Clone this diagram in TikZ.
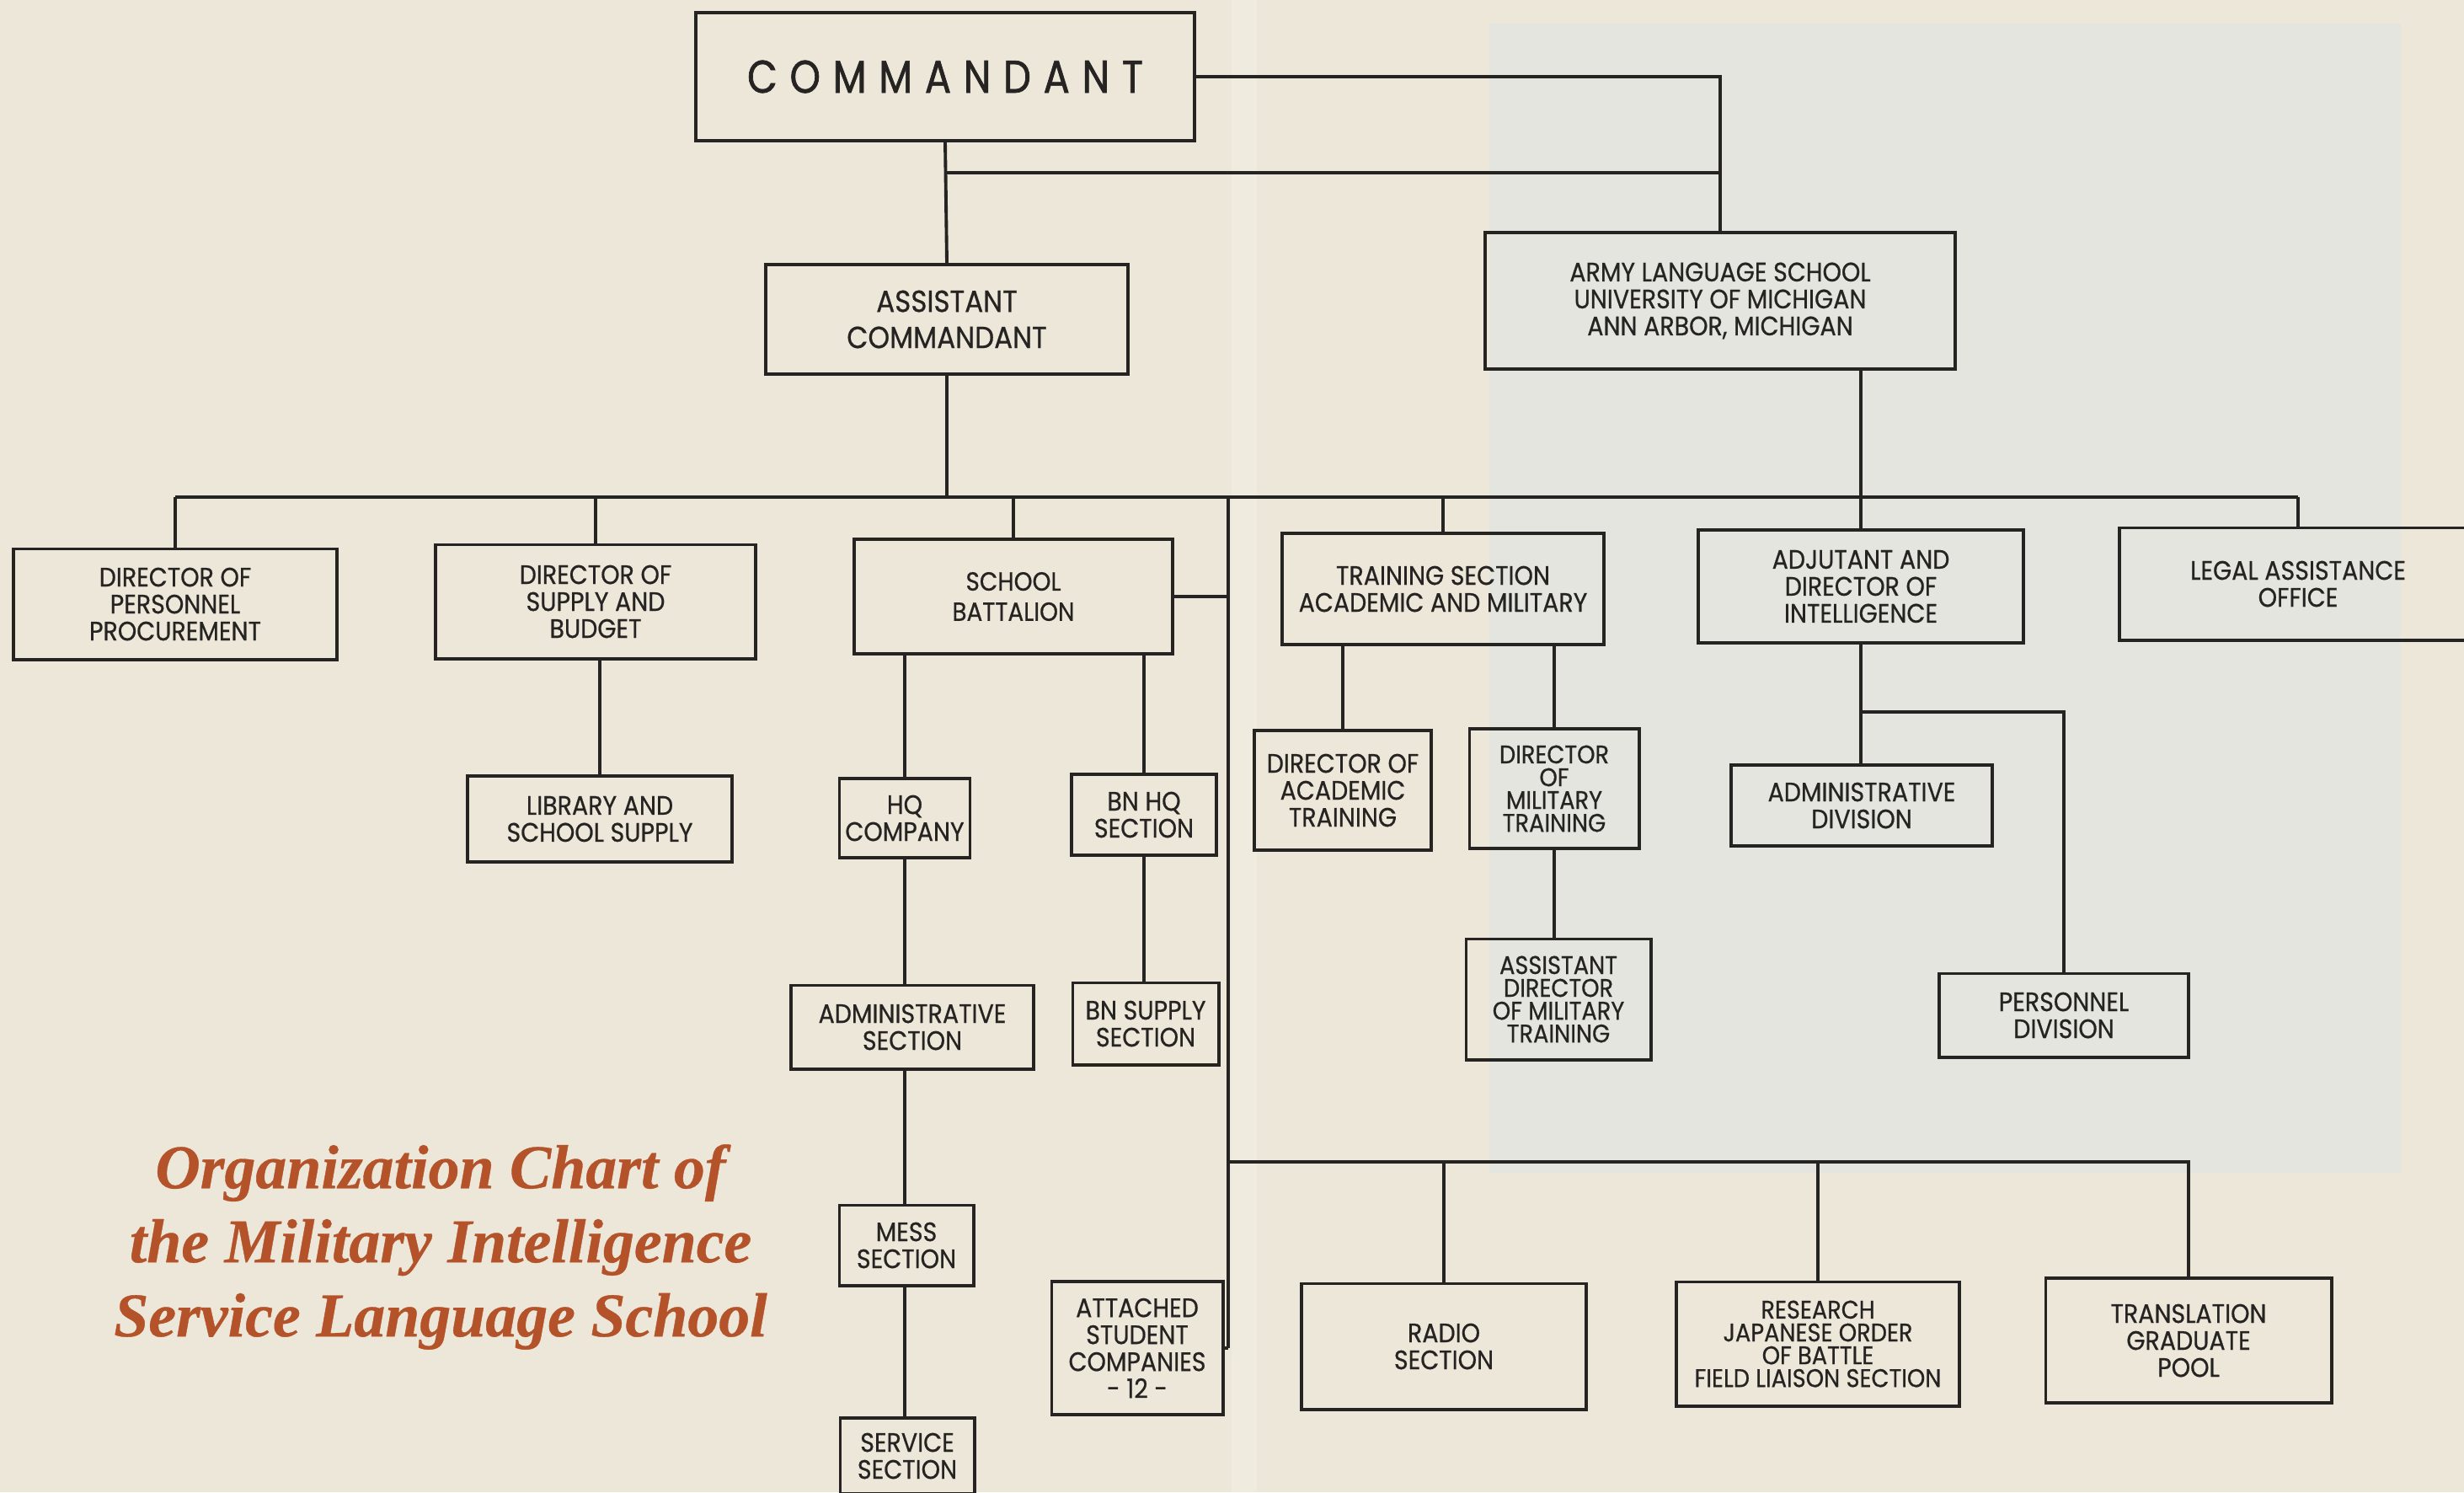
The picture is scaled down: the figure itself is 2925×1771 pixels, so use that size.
\documentclass[tikz,border=0pt]{standalone}
\usepackage{fontspec}
\setmainfont{Poppins}[FakeStretch=0.9, FakeBold=0.6]
\newfontfamily\headfont{Poppins}[FakeStretch=0.85, FakeBold=1.2, LetterSpace=27]
\newfontfamily\titlefont{Liberation Serif}[FakeBold=0.5]
\definecolor{paper}{RGB}{237,231,217}
\definecolor{panel}{RGB}{227,229,222}
\definecolor{ink}{RGB}{38,36,34}
\definecolor{rust}{RGB}{180,82,42}
\newcommand{\labelfont}{\fontsize{9}{9.1}\selectfont}
\newcommand{\tightfont}{\fontsize{8.6}{7.7}\selectfont}

\begin{document}
\begin{tikzpicture}[x=0.01cm, y=-0.01cm,
    box/.style={draw=ink, line width=1.1pt, align=center, inner sep=0pt, text=ink, font=\labelfont},
    tight/.style={font=\tightfont},
    link/.style={draw=ink, line width=1.1pt}]

\useasboundingbox (0,0) rectangle (2925,1771);
\fill[paper] (0,0) rectangle (2925,1771);
\fill[panel] (1768,28) rectangle (2850,1392);
% fold between the two pages
\fill[white, opacity=0.18] (1462,0) rectangle (1492,1771);

% top
\node[box, minimum width=5.92cm, minimum height=1.52cm, font=\headfont\fontsize{15.5}{17}\selectfont] (cmd) at (1122,91) {COMMANDANT};
\node[box, minimum width=4.30cm, minimum height=1.30cm, font=\fontsize{10.3}{12.2}\selectfont] (asst) at (1124,379) {ASSISTANT\\COMMANDANT};
\node[box, minimum width=5.58cm, minimum height=1.62cm] (army) at (2042,357) {ARMY LANGUAGE SCHOOL\\UNIVERSITY OF MICHIGAN\\ANN ARBOR, MICHIGAN};

% second row
\node[box, minimum width=3.83cm, minimum height=1.31cm] (dirpers) at (208,717) {DIRECTOR OF\\PERSONNEL\\PROCUREMENT};
\node[box, minimum width=3.80cm, minimum height=1.35cm] (dirsup) at (707,714) {DIRECTOR OF\\SUPPLY AND\\BUDGET};
\node[box, minimum width=3.78cm, minimum height=1.36cm, font=\fontsize{8.8}{10.2}\selectfont] (schbn) at (1203,708) {SCHOOL\\BATTALION};
\node[box, minimum width=3.82cm, minimum height=1.32cm] (training) at (1713,699) {TRAINING SECTION\\ACADEMIC AND MILITARY};
\node[box, minimum width=3.86cm, minimum height=1.34cm] (adj) at (2209,696) {ADJUTANT AND\\DIRECTOR OF\\INTELLIGENCE};
\node[box, minimum width=4.24cm, minimum height=1.33cm] (legal) at (2728,693) {LEGAL ASSISTANCE\\OFFICE};

% under the school battalion
\node[box, minimum width=3.14cm, minimum height=1.02cm] (library) at (712,972) {LIBRARY AND\\SCHOOL SUPPLY};
\node[box, minimum width=1.55cm, minimum height=0.94cm] (hq) at (1074,971) {HQ\\COMPANY};
\node[box, minimum width=1.72cm, minimum height=0.96cm] (bnhq) at (1358,967) {BN HQ\\SECTION};
\node[box, minimum width=1.73cm, minimum height=0.97cm] (bnsup) at (1360,1215) {BN SUPPLY\\SECTION};
\node[box, minimum width=2.87cm, minimum height=0.99cm] (admsec) at (1083,1219) {ADMINISTRATIVE\\SECTION};
\node[box, minimum width=1.59cm, minimum height=0.95cm] (mess) at (1076,1478) {MESS\\SECTION};
\node[box, minimum width=1.59cm, minimum height=0.90cm] (service) at (1077,1728) {SERVICE\\SECTION};
\node[box, minimum width=2.03cm, minimum height=1.58cm] (attached) at (1350,1600) {ATTACHED\\STUDENT\\COMPANIES\\- 12 -};

% under training and adjutant
\node[box, minimum width=2.10cm, minimum height=1.42cm] (diracad) at (1594,938) {DIRECTOR OF\\ACADEMIC\\TRAINING};
\node[box, tight, minimum width=2.01cm, minimum height=1.42cm] (dirmil) at (1845,936) {DIRECTOR\\OF\\MILITARY\\TRAINING};
\node[box, tight, minimum width=2.19cm, minimum height=1.43cm] (asstdir) at (1850,1186) {ASSISTANT\\DIRECTOR\\OF MILITARY\\TRAINING};
\node[box, minimum width=3.10cm, minimum height=0.96cm] (admdiv) at (2210,956) {ADMINISTRATIVE\\DIVISION};
\node[box, minimum width=2.96cm, minimum height=0.99cm] (persdiv) at (2450,1205) {PERSONNEL\\DIVISION};

% bottom row
\node[box, minimum width=3.37cm, minimum height=1.49cm] (radio) at (1714,1598) {RADIO\\SECTION};
\node[box, tight, minimum width=3.36cm, minimum height=1.47cm] (research) at (2158,1595) {RESEARCH\\JAPANESE ORDER\\OF BATTLE\\FIELD LIAISON SECTION};
\node[box, minimum width=3.39cm, minimum height=1.48cm] (transl) at (2598,1591) {TRANSLATION\\GRADUATE\\POOL};

% title
\node[text=rust, align=center, font=\titlefont\bfseries\itshape\fontsize{21}{25}\selectfont] (title) at (523,1480) {Organization Chart of\\the Military Intelligence\\Service Language School};

% bus points
\coordinate (busW) at (208,590);
\coordinate (busE) at (2728,590);
\coordinate (gutter) at (1458,590);
\coordinate (gutterBot) at (1458,1600);
\coordinate (lowbus) at (1458,1379);
\coordinate (cmdlink) at (1122,205);
\coordinate (adjbranch) at (2211,845);

% links
\draw[link] (cmd.east) -| (army.north);
\draw[link] (cmd.south) -- (asst.north);
\draw[link] (cmdlink) -- (cmdlink -| army.north);
\draw[link] (asst.south) -- (asst.south |- busW);
\draw[link] (busW) -- (busE);
\draw[link] (busW) -- (dirpers.north);
\draw[link] (dirsup.north |- busW) -- (dirsup.north);
\draw[link] (schbn.north |- busW) -- (schbn.north);
\draw[link] (training.north |- busW) -- (training.north);
\draw[link] (army.south -| adj.north) -- (adj.north);
\draw[link] (busE) -- (legal.north);

\draw[link] (library.north |- dirsup.south) -- (library.north);
\draw[link] (hq.north |- schbn.south) -- (hq.north);
\draw[link] (bnhq.north |- schbn.south) -- (bnhq.north);
\draw[link] (bnhq.south) -- (bnhq.south |- bnsup.north);
\draw[link] (hq.south) -- (hq.south |- admsec.north);
\draw[link] (hq.south |- admsec.south) -- (hq.south |- mess.north);
\draw[link] (hq.south |- mess.south) -- (hq.south |- service.north);
\draw[link] (schbn.east) -- (schbn.east -| gutter);
\draw[link] (gutter) -- (gutterBot);
\draw[link] (attached.east) -- (gutterBot);

\draw[link] (diracad.north |- training.south) -- (diracad.north);
\draw[link] (dirmil.north |- training.south) -- (dirmil.north);
\draw[link] (dirmil.south) -- (dirmil.south |- asstdir.north);
\draw[link] (adj.south) -- (admdiv.north -| adj.south);
\draw[link] (adjbranch) -| (persdiv.north);

\draw[link] (lowbus) -| (transl.north);
\draw[link] (radio.north |- lowbus) -- (radio.north);
\draw[link] (research.north |- lowbus) -- (research.north);

\end{tikzpicture}
\end{document}
